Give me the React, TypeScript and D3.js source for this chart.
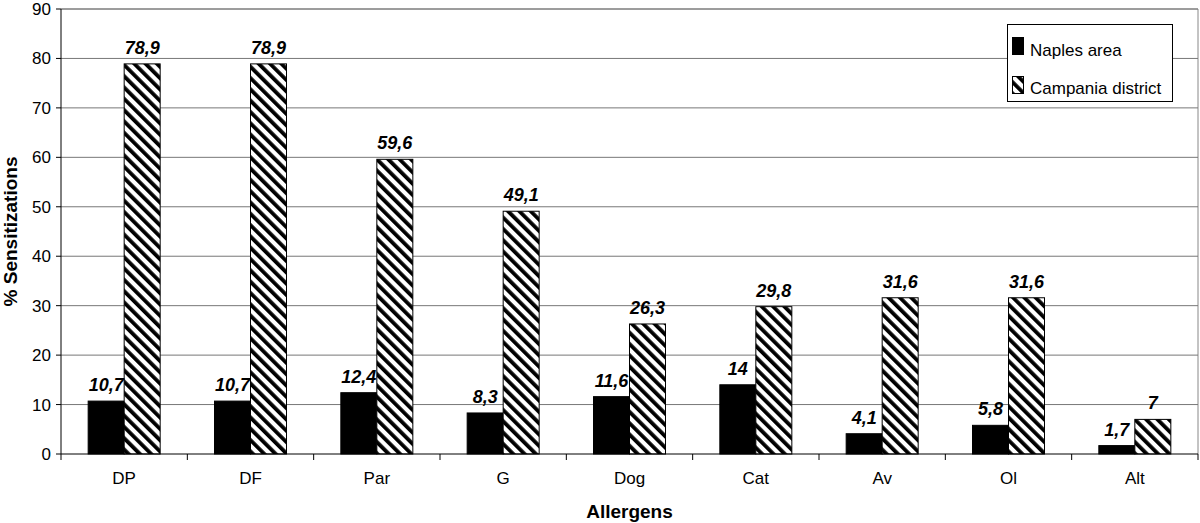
import React from "react";
import * as d3 from "d3";

const categories = ["DP", "DF", "Par", "G", "Dog", "Cat", "Av", "Ol", "Alt"];
const naples = [10.7, 10.7, 12.4, 8.3, 11.6, 14, 4.1, 5.8, 1.7];
const campania = [78.9, 78.9, 59.6, 49.1, 26.3, 29.8, 31.6, 31.6, 7];
const yTicks = [0, 10, 20, 30, 40, 50, 60, 70, 80, 90];
const seriesNames = ["Naples area", "Campania district"];

const W = 1200, H = 523;
const left = 61, right = 1198, top = 9, bottom = 454;

const fmt = (v: number) => String(v).replace(".", ",");

export default function App() {
  const x = d3.scaleBand<string>().domain(categories).range([left, right]);
  const y = d3.scaleLinear().domain([0, 90]).range([bottom, top]);
  const bw = 36;
  const font = "Arial, 'Liberation Sans', sans-serif";
  return (
    <svg width={W} height={H} style={{ position: "absolute", left: 0, top: 0, background: "#fff" }}>
      <defs>
        <pattern id="hatch" patternUnits="userSpaceOnUse" width="8" height="8" patternTransform="rotate(-45)">
          <rect width="8" height="8" fill="#fff" />
          <rect x="0" y="0" width="3.8" height="8" fill="#000" />
        </pattern>
      </defs>
      <rect x={0} y={0} width={W} height={H} fill="#fff" />
      {/* plot border */}
      <line x1={left} x2={right} y1={top} y2={top} stroke="#888" />
      <line x1={right} x2={right} y1={top} y2={bottom} stroke="#888" />
      {yTicks.filter(t => t > 0).map(t => (
        <line key={t} x1={left} x2={right} y1={y(t)} y2={y(t)} stroke="#777" />
      ))}
      {/* bars */}
      {categories.map((c, i) => {
        const cx = x(c)! + x.bandwidth() / 2;
        return (
          <g key={c}>
            <rect x={cx - bw} y={y(naples[i])} width={bw} height={bottom - y(naples[i])} fill="#000" stroke="#000" />
            <rect x={cx} y={y(campania[i])} width={bw} height={bottom - y(campania[i])} fill="url(#hatch)" stroke="#000" />
            <text x={cx - bw / 2} y={y(naples[i]) - 10} textAnchor="middle" fontFamily={font} fontSize={18} fontWeight="bold" fontStyle="italic">{fmt(naples[i])}</text>
            <text x={cx + bw / 2} y={y(campania[i]) - 10} textAnchor="middle" fontFamily={font} fontSize={18} fontWeight="bold" fontStyle="italic">{fmt(campania[i])}</text>
            <text x={cx} y={484} textAnchor="middle" fontFamily={font} fontSize={17}>{c}</text>
          </g>
        );
      })}
      {/* axes */}
      <line x1={left} x2={left} y1={top} y2={bottom} stroke="#000" />
      <line x1={left} x2={right} y1={bottom} y2={bottom} stroke="#000" />
      {yTicks.map(t => (
        <g key={t}>
          <line x1={left - 5} x2={left} y1={y(t)} y2={y(t)} stroke="#000" />
          <text x={left - 10} y={y(t) + 6} textAnchor="end" fontFamily={font} fontSize={17}>{t}</text>
        </g>
      ))}
      {categories.map((c) => (
        <line key={c} x1={x(c)!} x2={x(c)!} y1={bottom} y2={bottom + 6} stroke="#000" />
      ))}
      <line x1={right} x2={right} y1={bottom} y2={bottom + 6} stroke="#000" />
      <text x={(left + right) / 2} y={518} textAnchor="middle" fontFamily={font} fontSize={19} fontWeight="bold">Allergens</text>
      <text transform={`translate(17,${(top + bottom) / 2}) rotate(-90)`} textAnchor="middle" fontFamily={font} fontSize={19} fontWeight="bold">% Sensitizations</text>
      {/* legend */}
      <rect x={1007.5} y={24.5} width={165} height={77} fill="#fff" stroke="#000" />
      <rect x={1012.5} y={37.5} width={11} height={17} fill="#000" stroke="#000" />
      <text x={1030} y={56} fontFamily={font} fontSize={17}>{seriesNames[0]}</text>
      <rect x={1012.5} y={76.5} width={11} height={17} fill="url(#hatch)" stroke="#000" />
      <text x={1030} y={94} fontFamily={font} fontSize={17}>{seriesNames[1]}</text>
    </svg>
  );
}
